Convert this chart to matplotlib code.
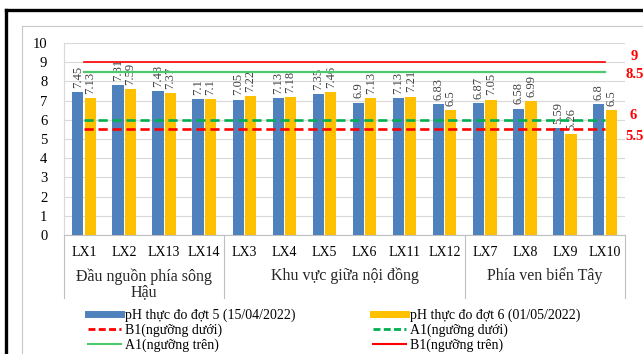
import numpy as np
import matplotlib
matplotlib.use("Agg")
import matplotlib.pyplot as plt
from matplotlib import transforms
from matplotlib.lines import Line2D

### ============= ###  Dados  ### ============= ###

categorias = ["LX1", "LX2", "LX13", "LX14", "LX3", "LX4", "LX5",
              "LX6", "LX11", "LX12", "LX7", "LX8", "LX9", "LX10"]
ph_dot5 = [7.45, 7.81, 7.48, 7.1, 7.05, 7.13, 7.35,
           6.9, 7.13, 6.83, 6.87, 6.58, 5.59, 6.8]
ph_dot6 = [7.13, 7.59, 7.37, 7.1, 7.22, 7.18, 7.46,
           7.13, 7.21, 6.5, 7.05, 6.99, 5.26, 6.5]

nhom = ["Đầu nguồn phía sông\nHậu", "Khu vực giữa nội đồng", "Phía ven biển Tây"]
nhom_ranh = [-0.5, 3.5, 9.5, 13.5]

B1_duoi = 5.5
A1_duoi = 6.0
A1_tren = 8.5
B1_tren = 9.0

nhan_dot5 = "pH thực đo đợt 5 (15/04/2022)"
nhan_dot6 = "pH thực đo đợt 6 (01/05/2022)"

### ============= ###  Estilo  ### ============= ###

plt.rcParams["font.family"] = ["Liberation Serif", "DejaVu Serif"]

AZUL = "#4F81BD"
LARANJA = "#FFC000"
VERMELHO = "#FF0000"
VERDE_TR = "#00B050"
VERDE = "#4DC86A"
CINZA = "#D9D9D9"

W, H = 643, 354
fig = plt.figure(figsize=(W / 100, H / 100), dpi=100)

# molduras externas (preta e cinza)
fig.add_artist(Line2D([6 / W, 6 / W], [0, 1 - 10 / H], color="black", lw=2.4))
fig.add_artist(Line2D([6 / W, 1], [1 - 10 / H, 1 - 10 / H], color="black", lw=2.4))
fig.add_artist(Line2D([22 / W, 22 / W], [0, 1 - 26 / H], color="#C8C8C8", lw=0.8))
fig.add_artist(Line2D([22 / W, 1], [1 - 26 / H, 1 - 26 / H], color="#C8C8C8", lw=0.8))

ax = fig.add_axes([64 / W, (H - 235) / H, (625 - 64) / W, 192 / H])

x = np.arange(len(categorias))
larg = 0.28
b5 = ax.bar(x - 0.155, ph_dot5, larg, color=AZUL, zorder=3)
b6 = ax.bar(x + 0.155, ph_dot6, larg, color=LARANJA, zorder=3)

for barras, vals in [(b5, ph_dot5), (b6, ph_dot6)]:
    for r, v in zip(barras, vals):
        ax.annotate(f"{v:g}", (r.get_x() + r.get_width() / 2, v),
                    xytext=(0, 3), textcoords="offset points",
                    rotation=90, ha="center", va="bottom",
                    fontsize=9, color="#404040", zorder=4)

n = len(categorias)
ax.plot(x, [B1_tren] * n, color=VERMELHO, lw=1.2, zorder=5)
ax.plot(x, [A1_tren] * n, color=VERDE, lw=1.6, zorder=5)
ax.plot(x, [A1_duoi] * n, color=VERDE_TR, lw=1.9, ls=(0, (3.5, 1.8)), zorder=5)
ax.plot(x, [B1_duoi] * n, color=VERMELHO, lw=1.9, ls=(0, (3.5, 1.8)), zorder=5)

ax.set_xlim(-0.5, n - 0.5)
ax.set_ylim(0, 10)
ax.set_yticks(range(0, 11))
ax.yaxis.grid(True, color=CINZA, lw=0.8, zorder=0)
ax.tick_params(axis="y", length=0, pad=12, labelsize=10.5)
ax.set_xticks(x)
ax.set_xticklabels(categorias)
ax.tick_params(axis="x", length=0, pad=8, labelsize=10)
for s in ["top", "right"]:
    ax.spines[s].set_visible(False)
ax.spines["left"].set_color(CINZA)
ax.spines["bottom"].set_color("#BFBFBF")

# separadores de grupo abaixo do eixo
tr = transforms.blended_transform_factory(ax.transData, ax.transAxes)
for xr in nhom_ranh:
    ax.plot([xr, xr], [0, -0.33], color="#BFBFBF", lw=0.8,
            transform=tr, clip_on=False)
for i, txt in enumerate(nhom):
    xc = (nhom_ranh[i] + nhom_ranh[i + 1]) / 2
    yc = -0.258 if "\n" in txt else -0.2135
    ax.text(xc, yc, txt, transform=tr, ha="center", va="center",
            fontsize=11.5, linespacing=0.95, color="#262626")

# rotulos vermelhos a direita (levemente deslocados como no original)
trf = transforms.blended_transform_factory(fig.transFigure, ax.transData)
for val, xp, dy in [(B1_tren, 631, 4.3), (A1_tren, 625, -2.2),
                    (A1_duoi, 630, 2.9), (B1_duoi, 625, -5.0)]:
    ax.annotate(f"{val:g}", (xp / W, val), xycoords=trf,
                xytext=(0, dy), textcoords="offset points",
                ha="left", va="center", fontsize=10.5, fontweight="bold",
                color=VERMELHO, annotation_clip=False)

# legenda
handles = [
    Line2D([], [], color=AZUL, lw=5),
    Line2D([], [], color=VERMELHO, lw=2, ls=(0, (2.5, 1.2))),
    Line2D([], [], color=VERDE, lw=1.5),
    Line2D([], [], color=LARANJA, lw=5),
    Line2D([], [], color=VERDE_TR, lw=2, ls=(0, (2.5, 1.2))),
    Line2D([], [], color=VERMELHO, lw=1.5),
]
labels = [nhan_dot5, "B1(ngưỡng dưới)", "A1(ngưỡng trên)",
          nhan_dot6, "A1(ngưỡng dưới)", "B1(ngưỡng trên)"]
fig.legend(handles, labels, ncol=2, loc="upper left",
           bbox_to_anchor=(88 / W, (H - 309) / H), frameon=False,
           fontsize=10.0, handlelength=2.35, handletextpad=0.3,
           labelspacing=0.08, columnspacing=5.6, borderpad=0,
           borderaxespad=0)

fig.savefig("out.png", dpi=100)
